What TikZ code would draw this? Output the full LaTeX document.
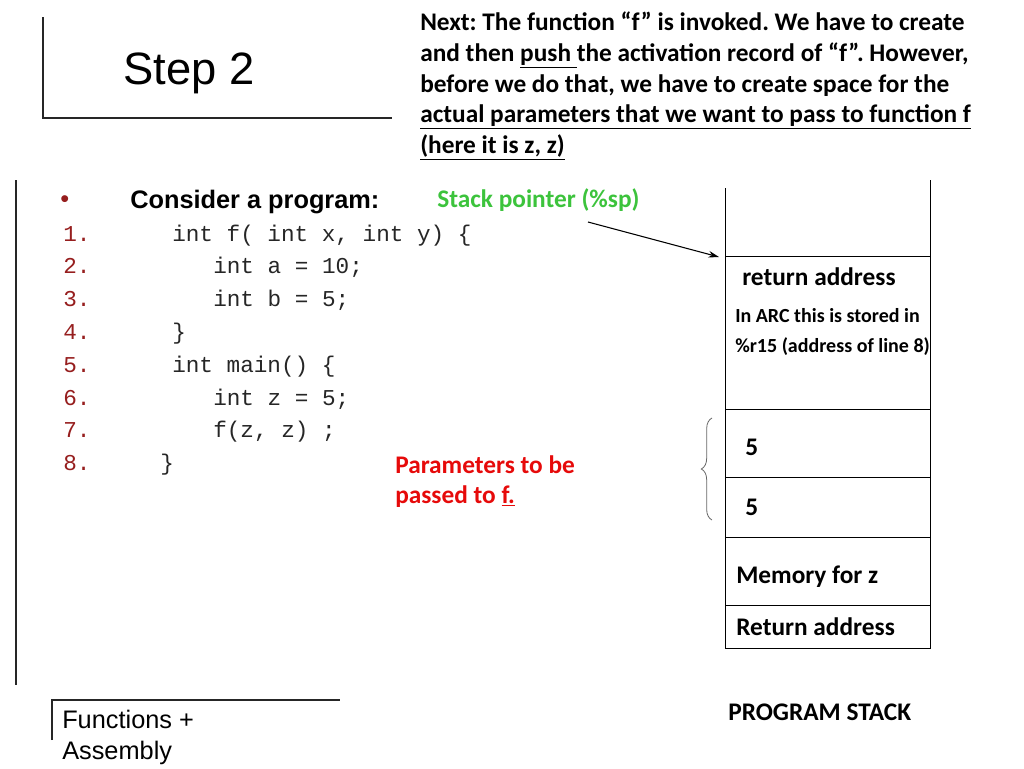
\documentclass[tikz,border=0pt]{standalone}
\usepackage{fontspec}
\setmainfont{Carlito}
\newfontfamily\arialfont{Liberation Sans}
\newfontfamily\monofont{Liberation Mono}
\usetikzlibrary{decorations.pathreplacing,arrows.meta}
\frenchspacing

\definecolor{numred}{RGB}{150,30,30}
\definecolor{spgreen}{RGB}{60,195,60}
\definecolor{parred}{RGB}{230,10,10}

\tikzset{
  lbl/.style={inner sep=0pt, anchor=base west, font=\fontsize{19}{22.9}\selectfont\bfseries},
  smalllbl/.style={lbl, font=\fontsize{15}{18}\selectfont\bfseries},
  codeline/.style={inner sep=0pt, anchor=base west, font=\fontsize{17}{20}\monofont, text=black!85},
  lineno/.style={codeline, text=numred},
  stackline/.style={line width=0.65pt},
  frameline/.style={line width=1.1pt, black!85},
}

\begin{document}
\begin{tikzpicture}[x=0.75pt, y=-0.75pt]
  \useasboundingbox (0,0) rectangle (1024,768);

  % title
  \draw[frameline] (43,17) -- (43,118) -- (392,118);
  \node[inner sep=0pt, anchor=base west, font=\fontsize{34}{40}\arialfont] (title) at (123,84) {Step 2};

  % note at the top
  \node[lbl, anchor=north west, align=left] (note) at (420,12)
    {Next: The function “f” is invoked. We have to create\\
     and then \underline{push }the activation record of “f”. However,\\
     before we do that, we have to create space for the\\
     \underline{actual parameters that we want to pass to function f}\\
     \underline{(here it is z, z)}};

  % program
  \draw[frameline] (16,180) -- (16,685);
  \node[inner sep=0pt, anchor=base west, font=\fontsize{19}{22}\arialfont, text=numred] (bullet) at (60,207) {•};
  \node[inner sep=0pt, anchor=base west, font=\fontsize{19}{22}\arialfont\bfseries] (consider) at (130,208) {Consider a program:};
  \foreach \i in {1,...,8}
    \node[lineno] (n\i) at (63,{241+32.8*(\i-1)}) {\i.};
  \node[codeline] (c1) at (172,241) {int f( int x, int y) \{};
  \node[codeline] (c2) at (213,273.8) {int a = 10;};
  \node[codeline] (c3) at (213,306.6) {int b = 5;};
  \node[codeline] (c4) at (172,339.4) {\}};
  \node[codeline] (c5) at (172,372.2) {int main() \{};
  \node[codeline] (c6) at (213,405) {int z = 5;};
  \node[codeline] (c7) at (213,437.8) {f(z, z) ;};
  \node[codeline] (c8) at (160,470.6) {\}};

  % stack pointer
  \node[lbl, text=spgreen] (sp) at (437,207) {Stack pointer (\%sp)};
  \coordinate (spfrom) at (588,222);
  \coordinate (sptop) at (719,257);
  \draw[-{Stealth[length=8pt,width=5pt]}, line width=0.8pt] (spfrom) -- (sptop);

  % program stack
  \draw[stackline] (725,188) -- (725,648) -- (930,648) -- (930,180);
  \foreach \y in {256,409,477,537,605}
    \draw[stackline] (725,\y) -- (930,\y);
  \node[lbl] (ret) at (742,285) {return address};
  \node[smalllbl] (arc1) at (735,322) {In ARC this is stored in};
  \node[smalllbl] (arc2) at (735,352) {\%r15 (address of line 8)};
  \node[lbl] (p1) at (745,455) {5};
  \node[lbl] (p2) at (745,515) {5};
  \node[lbl] (memz) at (736,583) {Memory for z};
  \node[lbl] (retmain) at (736,635) {Return address};
  \node[lbl] (stacktitle) at (728,720) {PROGRAM STACK};

  % parameters
  \draw[decorate, decoration={brace, amplitude=8pt}, black!60, line width=0.6pt] (712,520) -- (712,418);
  \node[lbl, text=parred, align=left, anchor=north west] (params) at (395,455)
    {Parameters to be\\ passed to \underline{f.}};

  % footer
  \draw[frameline] (52,740) -- (52,700) -- (340,700);
  \node[inner sep=0pt, anchor=north west, align=left, font=\fontsize{19}{23.2}\arialfont] (footer) at (62,710)
    {Functions +\\ Assembly};
\end{tikzpicture}
\end{document}
